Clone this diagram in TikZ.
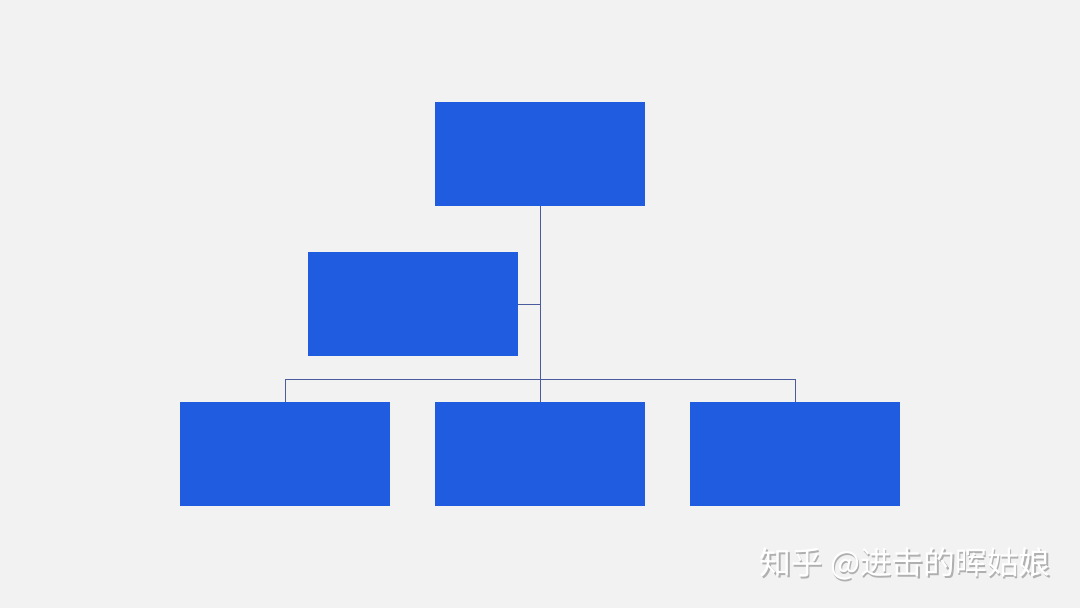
\documentclass[tikz,border=0pt]{standalone}
\usepackage{fontspec}
\newfontfamily\cjk{Noto Sans CJK SC}
\definecolor{bg}{HTML}{F2F2F2}
\definecolor{boxblue}{HTML}{1F5CE0}
\definecolor{linec}{HTML}{4A5C9E}
\definecolor{shadowc}{HTML}{B0B0B0}
\begin{document}
\begin{tikzpicture}[x=0.75pt,y=-0.75pt,
  blk/.style={fill=boxblue,draw=none,minimum width=157.5pt,minimum height=78pt,inner sep=0pt,outer sep=0pt,anchor=north west},
  conn/.style={draw=linec,line width=0.65pt}]
\fill[bg] (0,0) rectangle (1080,608);
\useasboundingbox (0,0) rectangle (1080,608);
\node[blk] (t) at (435,102) {};
\node[blk] (m) at (308,252) {};
\node[blk] (b1) at (180,402) {};
\node[blk] (b2) at (435,402) {};
\node[blk] (b3) at (690,402) {};
\coordinate (bar) at (540,379);
\draw[conn] (t.south) -- (b2.north);
\draw[conn] (m.east) -- (m.east -| t.south);
\draw[conn] (b1.north) |- (bar) -| (b3.north);
\node[text=shadowc,font=\cjk\fontsize{23.8pt}{24pt}\selectfont,inner sep=0pt] (wms) at (906.5,565.5) {知乎 @进击的晖姑娘};
\node[text=white,font=\cjk\fontsize{23.8pt}{24pt}\selectfont,inner sep=0pt] (wm) at (905,564) {知乎 @进击的晖姑娘};
\end{tikzpicture}
\end{document}
